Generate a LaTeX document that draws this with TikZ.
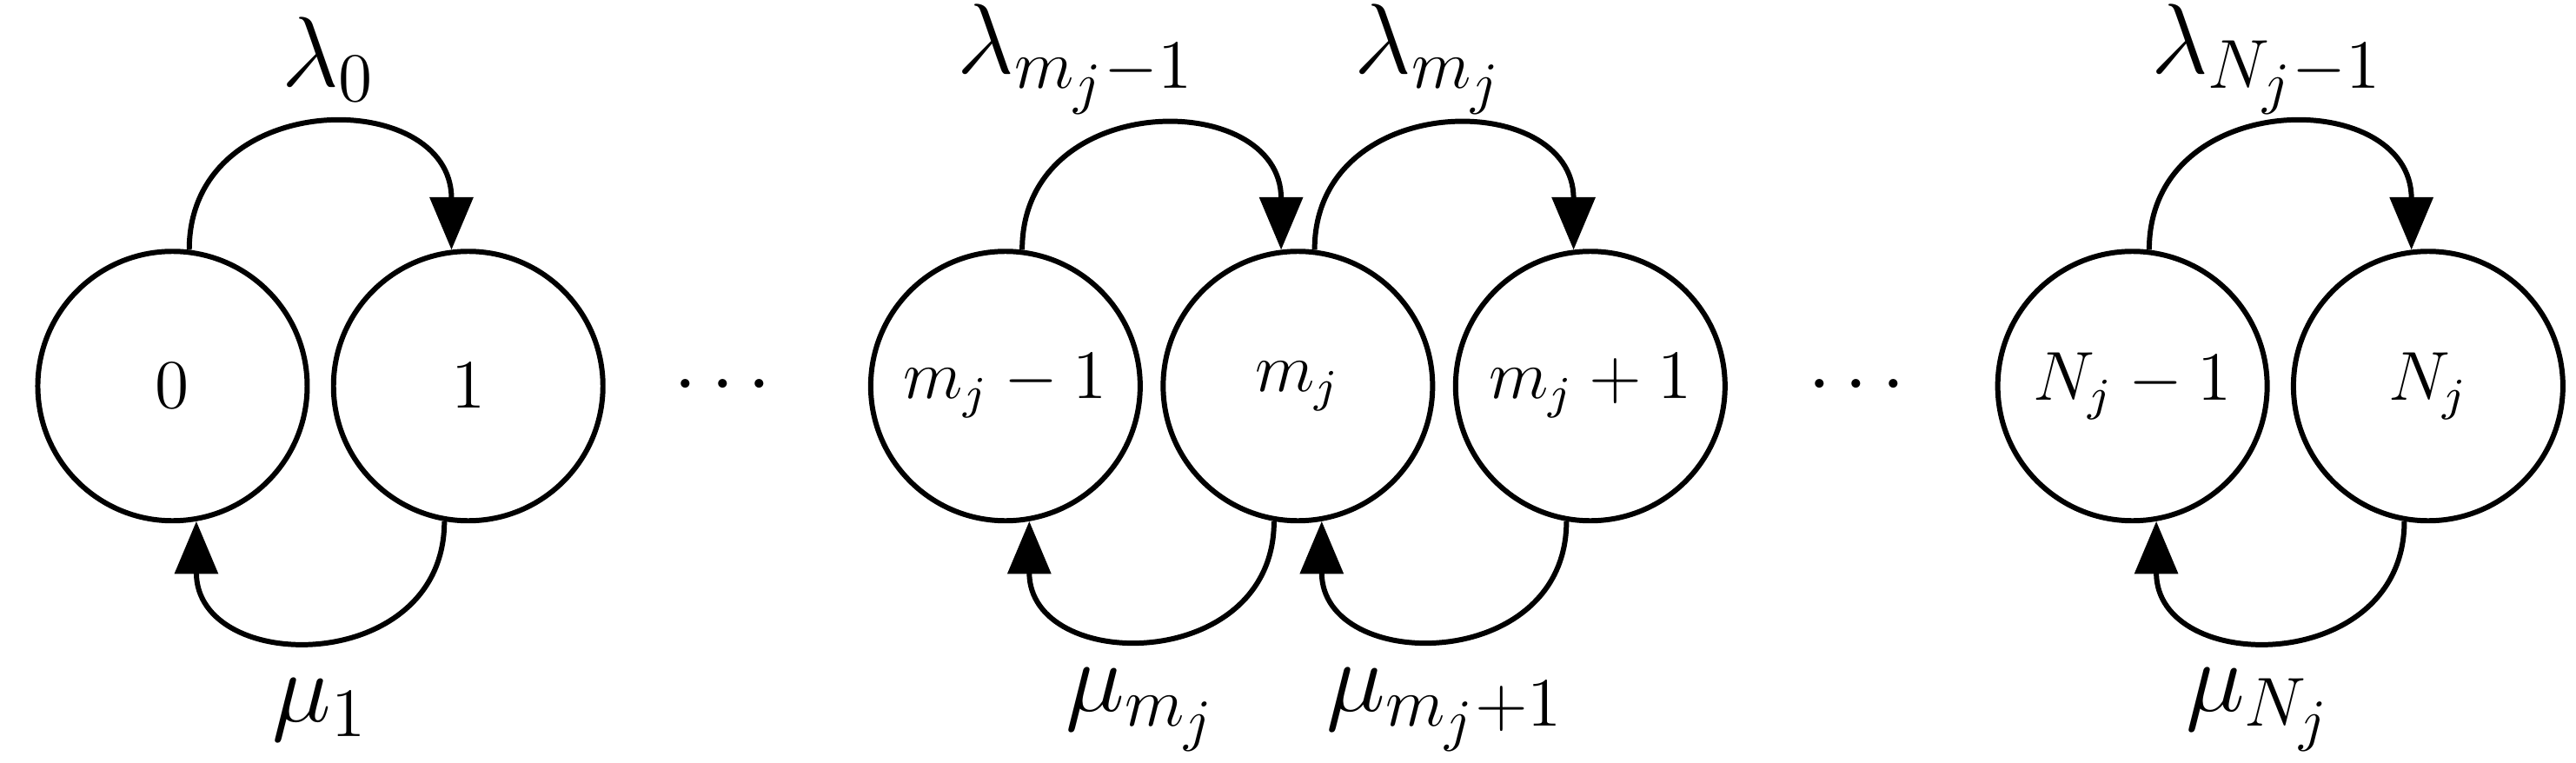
\documentclass[tikz,border=0pt]{standalone}
\usetikzlibrary{arrows.meta}
\begin{document}
\begin{tikzpicture}[x=1cm,y=1cm,
  state/.style={circle,draw,line width=0.9pt,minimum size=1.64cm,inner sep=0pt,font=\large},
  tr/.style={line width=0.9pt,-{Triangle[length=3.2mm,width=2.6mm]}},
  lab/.style={font=\LARGE}]
\useasboundingbox (0,0) rectangle (15.68,-4.64);
\node[state] (s0) at (1.05,-2.35) {$0$};
\node[state] (s1) at (2.85,-2.35) {$1$};
\node[font=\Large] (d1) at (4.40,-2.35) {$\cdots$};
\node[state] (a) at (6.12,-2.35) {$m_j-1$};
\node[state] (b) at (7.90,-2.35) {$m_j$};
\node[state] (c) at (9.68,-2.35) {$m_j+1$};
\node[font=\Large] (d2) at (11.30,-2.35) {$\cdots$};
\node[state] (n1) at (12.98,-2.35) {$N_j-1$};
\node[state] (n) at (14.78,-2.35) {$N_j$};
\foreach \u/\v in {s0/s1,a/b,b/c,n1/n}{
  \draw[tr] (\u.83) to[out=90,in=90,looseness=1.6] (\v.97);
  \draw[tr] (\v.260) to[out=-90,in=-90,looseness=1.6] (\u.280);
}
\node[lab] (l0) at (2.00,-0.36) {$\lambda_0$};
\node[lab] (m1) at (1.95,-4.32) {$\mu_1$};
\node[lab] (l1) at (6.55,-0.36) {$\lambda_{m_j-1}$};
\node[lab] (l2) at (8.70,-0.36) {$\lambda_{m_j}$};
\node[lab] (m2) at (6.95,-4.32) {$\mu_{m_j}$};
\node[lab] (m3) at (8.80,-4.32) {$\mu_{m_j+1}$};
\node[lab] (l3) at (13.80,-0.36) {$\lambda_{N_j-1}$};
\node[lab] (m4) at (13.75,-4.32) {$\mu_{N_j}$};
\end{tikzpicture}
\end{document}
